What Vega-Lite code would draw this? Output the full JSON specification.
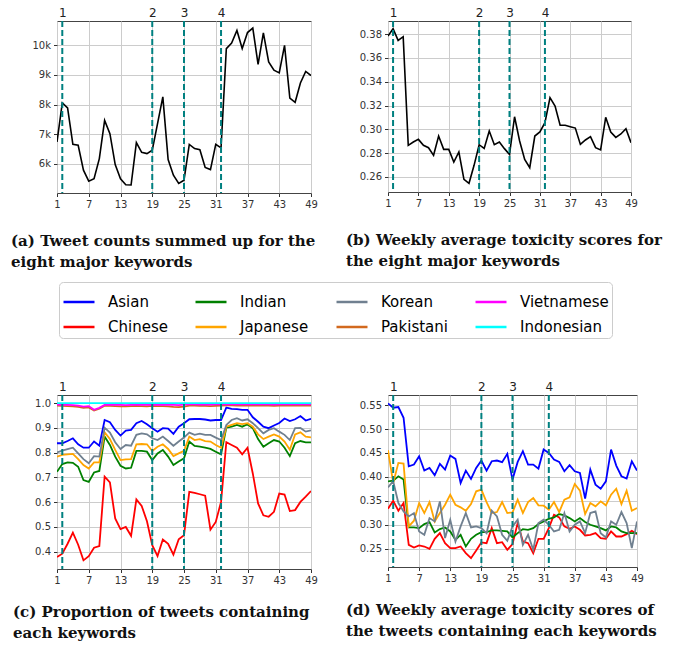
{
  "$schema": "https://vega.github.io/schema/vega-lite/v6.json",
  "background": "white",
  "padding": {"left": 10, "top": 5, "right": 5, "bottom": 5},
  "config": {
    "font": "DejaVu Sans",
    "view": {"stroke": "#444444", "strokeWidth": 1},
    "axis": {
      "labelFont": "DejaVu Sans",
      "labelFontSize": 10,
      "labelColor": "#333333",
      "tickColor": "#333333",
      "tickSize": 3.5,
      "labelPadding": 3,
      "gridColor": "#cccccc",
      "gridWidth": 1,
      "domain": false,
      "labelFlush": false,
      "labelOverlap": false
    },
    "title": {
      "font": "DejaVu Serif",
      "fontSize": 15,
      "fontWeight": "bold",
      "color": "#111111",
      "orient": "bottom",
      "anchor": "start",
      "frame": "group",
      "lineHeight": 21,
      "offset": 24
    }
  },
  "datasets": {
    "events": [
      {"week": 2, "event": 1},
      {"week": 19, "event": 2},
      {"week": 25, "event": 3},
      {"week": 32, "event": 4}
    ],
    "tweetCounts": [
      {"week": 1, "tweets": 6740}, {"week": 2, "tweets": 8060}, {"week": 3, "tweets": 7890}, {"week": 4, "tweets": 6660}, {"week": 5, "tweets": 6630},
      {"week": 6, "tweets": 5790}, {"week": 7, "tweets": 5420}, {"week": 8, "tweets": 5500}, {"week": 9, "tweets": 6180}, {"week": 10, "tweets": 7470},
      {"week": 11, "tweets": 7020}, {"week": 12, "tweets": 5980}, {"week": 13, "tweets": 5500}, {"week": 14, "tweets": 5300}, {"week": 15, "tweets": 5290},
      {"week": 16, "tweets": 6720}, {"week": 17, "tweets": 6390}, {"week": 18, "tweets": 6350}, {"week": 19, "tweets": 6460}, {"week": 20, "tweets": 7360},
      {"week": 21, "tweets": 8260}, {"week": 22, "tweets": 6150}, {"week": 23, "tweets": 5620}, {"week": 24, "tweets": 5340}, {"week": 25, "tweets": 5450},
      {"week": 26, "tweets": 6660}, {"week": 27, "tweets": 6520}, {"week": 28, "tweets": 6480}, {"week": 29, "tweets": 5880}, {"week": 30, "tweets": 5810},
      {"week": 31, "tweets": 6660}, {"week": 32, "tweets": 6540}, {"week": 33, "tweets": 9890}, {"week": 34, "tweets": 10080}, {"week": 35, "tweets": 10500},
      {"week": 36, "tweets": 9890}, {"week": 37, "tweets": 10430}, {"week": 38, "tweets": 10580}, {"week": 39, "tweets": 9360}, {"week": 40, "tweets": 10420},
      {"week": 41, "tweets": 9440}, {"week": 42, "tweets": 9160}, {"week": 43, "tweets": 9070}, {"week": 44, "tweets": 10000}, {"week": 45, "tweets": 8220},
      {"week": 46, "tweets": 8080}, {"week": 47, "tweets": 8730}, {"week": 48, "tweets": 9120}, {"week": 49, "tweets": 8980}
    ],
    "weeklyToxicity": [
      {"week": 1, "toxicity": 0.3783}, {"week": 2, "toxicity": 0.3845}, {"week": 3, "toxicity": 0.3747}, {"week": 4, "toxicity": 0.3778}, {"week": 5, "toxicity": 0.2866},
      {"week": 6, "toxicity": 0.2894}, {"week": 7, "toxicity": 0.2916}, {"week": 8, "toxicity": 0.2866}, {"week": 9, "toxicity": 0.2846}, {"week": 10, "toxicity": 0.2782},
      {"week": 11, "toxicity": 0.2944}, {"week": 12, "toxicity": 0.2832}, {"week": 13, "toxicity": 0.2832}, {"week": 14, "toxicity": 0.2726}, {"week": 15, "toxicity": 0.281},
      {"week": 16, "toxicity": 0.258}, {"week": 17, "toxicity": 0.2547}, {"week": 18, "toxicity": 0.2698}, {"week": 19, "toxicity": 0.2871}, {"week": 20, "toxicity": 0.284},
      {"week": 21, "toxicity": 0.2986}, {"week": 22, "toxicity": 0.2871}, {"week": 23, "toxicity": 0.2894}, {"week": 24, "toxicity": 0.2838}, {"week": 25, "toxicity": 0.279},
      {"week": 26, "toxicity": 0.3106}, {"week": 27, "toxicity": 0.2902}, {"week": 28, "toxicity": 0.2748}, {"week": 29, "toxicity": 0.2678}, {"week": 30, "toxicity": 0.2944},
      {"week": 31, "toxicity": 0.2978}, {"week": 32, "toxicity": 0.3056}, {"week": 33, "toxicity": 0.3266}, {"week": 34, "toxicity": 0.3196}, {"week": 35, "toxicity": 0.3034},
      {"week": 36, "toxicity": 0.3034}, {"week": 37, "toxicity": 0.3022}, {"week": 38, "toxicity": 0.3011}, {"week": 39, "toxicity": 0.2874}, {"week": 40, "toxicity": 0.2911},
      {"week": 41, "toxicity": 0.2939}, {"week": 42, "toxicity": 0.2846}, {"week": 43, "toxicity": 0.2827}, {"week": 44, "toxicity": 0.3101}, {"week": 45, "toxicity": 0.2978},
      {"week": 46, "toxicity": 0.2933}, {"week": 47, "toxicity": 0.2961}, {"week": 48, "toxicity": 0.3006}, {"week": 49, "toxicity": 0.2888}
    ],
    "keywordShare": [
      {"week": 1, "keyword": "Asian", "share": 0.838}, {"week": 2, "keyword": "Asian", "share": 0.838}, {"week": 3, "keyword": "Asian", "share": 0.847}, {"week": 4, "keyword": "Asian", "share": 0.858}, {"week": 5, "keyword": "Asian", "share": 0.834}, {"week": 6, "keyword": "Asian", "share": 0.82}, {"week": 7, "keyword": "Asian", "share": 0.82}, {"week": 8, "keyword": "Asian", "share": 0.845}, {"week": 9, "keyword": "Asian", "share": 0.828}, {"week": 10, "keyword": "Asian", "share": 0.932},
      {"week": 11, "keyword": "Asian", "share": 0.923}, {"week": 12, "keyword": "Asian", "share": 0.892}, {"week": 13, "keyword": "Asian", "share": 0.869}, {"week": 14, "keyword": "Asian", "share": 0.889}, {"week": 15, "keyword": "Asian", "share": 0.892}, {"week": 16, "keyword": "Asian", "share": 0.919}, {"week": 17, "keyword": "Asian", "share": 0.928}, {"week": 18, "keyword": "Asian", "share": 0.915}, {"week": 19, "keyword": "Asian", "share": 0.899}, {"week": 20, "keyword": "Asian", "share": 0.885},
      {"week": 21, "keyword": "Asian", "share": 0.899}, {"week": 22, "keyword": "Asian", "share": 0.897}, {"week": 23, "keyword": "Asian", "share": 0.876}, {"week": 24, "keyword": "Asian", "share": 0.905}, {"week": 25, "keyword": "Asian", "share": 0.919}, {"week": 26, "keyword": "Asian", "share": 0.935}, {"week": 27, "keyword": "Asian", "share": 0.936}, {"week": 28, "keyword": "Asian", "share": 0.936}, {"week": 29, "keyword": "Asian", "share": 0.934}, {"week": 30, "keyword": "Asian", "share": 0.93},
      {"week": 31, "keyword": "Asian", "share": 0.932}, {"week": 32, "keyword": "Asian", "share": 0.932}, {"week": 33, "keyword": "Asian", "share": 0.982}, {"week": 34, "keyword": "Asian", "share": 0.977}, {"week": 35, "keyword": "Asian", "share": 0.976}, {"week": 36, "keyword": "Asian", "share": 0.973}, {"week": 37, "keyword": "Asian", "share": 0.973}, {"week": 38, "keyword": "Asian", "share": 0.943}, {"week": 39, "keyword": "Asian", "share": 0.925}, {"week": 40, "keyword": "Asian", "share": 0.905},
      {"week": 41, "keyword": "Asian", "share": 0.899}, {"week": 42, "keyword": "Asian", "share": 0.91}, {"week": 43, "keyword": "Asian", "share": 0.92}, {"week": 44, "keyword": "Asian", "share": 0.938}, {"week": 45, "keyword": "Asian", "share": 0.928}, {"week": 46, "keyword": "Asian", "share": 0.935}, {"week": 47, "keyword": "Asian", "share": 0.948}, {"week": 48, "keyword": "Asian", "share": 0.93}, {"week": 49, "keyword": "Asian", "share": 0.937},

      {"week": 1, "keyword": "Chinese", "share": 0.378}, {"week": 2, "keyword": "Chinese", "share": 0.392}, {"week": 3, "keyword": "Chinese", "share": 0.432}, {"week": 4, "keyword": "Chinese", "share": 0.477}, {"week": 5, "keyword": "Chinese", "share": 0.428}, {"week": 6, "keyword": "Chinese", "share": 0.365}, {"week": 7, "keyword": "Chinese", "share": 0.382}, {"week": 8, "keyword": "Chinese", "share": 0.416}, {"week": 9, "keyword": "Chinese", "share": 0.423}, {"week": 10, "keyword": "Chinese", "share": 0.703},
      {"week": 11, "keyword": "Chinese", "share": 0.68}, {"week": 12, "keyword": "Chinese", "share": 0.534}, {"week": 13, "keyword": "Chinese", "share": 0.491}, {"week": 14, "keyword": "Chinese", "share": 0.5}, {"week": 15, "keyword": "Chinese", "share": 0.464}, {"week": 16, "keyword": "Chinese", "share": 0.611}, {"week": 17, "keyword": "Chinese", "share": 0.585}, {"week": 18, "keyword": "Chinese", "share": 0.523}, {"week": 19, "keyword": "Chinese", "share": 0.426}, {"week": 20, "keyword": "Chinese", "share": 0.382},
      {"week": 21, "keyword": "Chinese", "share": 0.449}, {"week": 22, "keyword": "Chinese", "share": 0.432}, {"week": 23, "keyword": "Chinese", "share": 0.388}, {"week": 24, "keyword": "Chinese", "share": 0.45}, {"week": 25, "keyword": "Chinese", "share": 0.466}, {"week": 26, "keyword": "Chinese", "share": 0.642}, {"week": 27, "keyword": "Chinese", "share": 0.638}, {"week": 28, "keyword": "Chinese", "share": 0.632}, {"week": 29, "keyword": "Chinese", "share": 0.626}, {"week": 30, "keyword": "Chinese", "share": 0.489},
      {"week": 31, "keyword": "Chinese", "share": 0.52}, {"week": 32, "keyword": "Chinese", "share": 0.601}, {"week": 33, "keyword": "Chinese", "share": 0.842}, {"week": 34, "keyword": "Chinese", "share": 0.831}, {"week": 35, "keyword": "Chinese", "share": 0.82}, {"week": 36, "keyword": "Chinese", "share": 0.793}, {"week": 37, "keyword": "Chinese", "share": 0.82}, {"week": 38, "keyword": "Chinese", "share": 0.716}, {"week": 39, "keyword": "Chinese", "share": 0.595}, {"week": 40, "keyword": "Chinese", "share": 0.547},
      {"week": 41, "keyword": "Chinese", "share": 0.541}, {"week": 42, "keyword": "Chinese", "share": 0.561}, {"week": 43, "keyword": "Chinese", "share": 0.635}, {"week": 44, "keyword": "Chinese", "share": 0.631}, {"week": 45, "keyword": "Chinese", "share": 0.564}, {"week": 46, "keyword": "Chinese", "share": 0.568}, {"week": 47, "keyword": "Chinese", "share": 0.601}, {"week": 48, "keyword": "Chinese", "share": 0.622}, {"week": 49, "keyword": "Chinese", "share": 0.645},

      {"week": 1, "keyword": "Indian", "share": 0.723}, {"week": 2, "keyword": "Indian", "share": 0.754}, {"week": 3, "keyword": "Indian", "share": 0.761}, {"week": 4, "keyword": "Indian", "share": 0.759}, {"week": 5, "keyword": "Indian", "share": 0.743}, {"week": 6, "keyword": "Indian", "share": 0.689}, {"week": 7, "keyword": "Indian", "share": 0.682}, {"week": 8, "keyword": "Indian", "share": 0.72}, {"week": 9, "keyword": "Indian", "share": 0.726}, {"week": 10, "keyword": "Indian", "share": 0.865},
      {"week": 11, "keyword": "Indian", "share": 0.831}, {"week": 12, "keyword": "Indian", "share": 0.784}, {"week": 13, "keyword": "Indian", "share": 0.747}, {"week": 14, "keyword": "Indian", "share": 0.736}, {"week": 15, "keyword": "Indian", "share": 0.739}, {"week": 16, "keyword": "Indian", "share": 0.807}, {"week": 17, "keyword": "Indian", "share": 0.807}, {"week": 18, "keyword": "Indian", "share": 0.804}, {"week": 19, "keyword": "Indian", "share": 0.77}, {"week": 20, "keyword": "Indian", "share": 0.797},
      {"week": 21, "keyword": "Indian", "share": 0.811}, {"week": 22, "keyword": "Indian", "share": 0.784}, {"week": 23, "keyword": "Indian", "share": 0.75}, {"week": 24, "keyword": "Indian", "share": 0.764}, {"week": 25, "keyword": "Indian", "share": 0.777}, {"week": 26, "keyword": "Indian", "share": 0.845}, {"week": 27, "keyword": "Indian", "share": 0.827}, {"week": 28, "keyword": "Indian", "share": 0.824}, {"week": 29, "keyword": "Indian", "share": 0.82}, {"week": 30, "keyword": "Indian", "share": 0.815},
      {"week": 31, "keyword": "Indian", "share": 0.804}, {"week": 32, "keyword": "Indian", "share": 0.793}, {"week": 33, "keyword": "Indian", "share": 0.901}, {"week": 34, "keyword": "Indian", "share": 0.905}, {"week": 35, "keyword": "Indian", "share": 0.912}, {"week": 36, "keyword": "Indian", "share": 0.905}, {"week": 37, "keyword": "Indian", "share": 0.915}, {"week": 38, "keyword": "Indian", "share": 0.899}, {"week": 39, "keyword": "Indian", "share": 0.855}, {"week": 40, "keyword": "Indian", "share": 0.824},
      {"week": 41, "keyword": "Indian", "share": 0.838}, {"week": 42, "keyword": "Indian", "share": 0.851}, {"week": 43, "keyword": "Indian", "share": 0.845}, {"week": 44, "keyword": "Indian", "share": 0.82}, {"week": 45, "keyword": "Indian", "share": 0.786}, {"week": 46, "keyword": "Indian", "share": 0.838}, {"week": 47, "keyword": "Indian", "share": 0.847}, {"week": 48, "keyword": "Indian", "share": 0.842}, {"week": 49, "keyword": "Indian", "share": 0.842},

      {"week": 1, "keyword": "Japanese", "share": 0.784}, {"week": 2, "keyword": "Japanese", "share": 0.791}, {"week": 3, "keyword": "Japanese", "share": 0.793}, {"week": 4, "keyword": "Japanese", "share": 0.795}, {"week": 5, "keyword": "Japanese", "share": 0.774}, {"week": 6, "keyword": "Japanese", "share": 0.75}, {"week": 7, "keyword": "Japanese", "share": 0.736}, {"week": 8, "keyword": "Japanese", "share": 0.761}, {"week": 9, "keyword": "Japanese", "share": 0.761}, {"week": 10, "keyword": "Japanese", "share": 0.882},
      {"week": 11, "keyword": "Japanese", "share": 0.855}, {"week": 12, "keyword": "Japanese", "share": 0.811}, {"week": 13, "keyword": "Japanese", "share": 0.77}, {"week": 14, "keyword": "Japanese", "share": 0.773}, {"week": 15, "keyword": "Japanese", "share": 0.774}, {"week": 16, "keyword": "Japanese", "share": 0.834}, {"week": 17, "keyword": "Japanese", "share": 0.835}, {"week": 18, "keyword": "Japanese", "share": 0.834}, {"week": 19, "keyword": "Japanese", "share": 0.807}, {"week": 20, "keyword": "Japanese", "share": 0.824},
      {"week": 21, "keyword": "Japanese", "share": 0.834}, {"week": 22, "keyword": "Japanese", "share": 0.815}, {"week": 23, "keyword": "Japanese", "share": 0.786}, {"week": 24, "keyword": "Japanese", "share": 0.797}, {"week": 25, "keyword": "Japanese", "share": 0.807}, {"week": 26, "keyword": "Japanese", "share": 0.865}, {"week": 27, "keyword": "Japanese", "share": 0.851}, {"week": 28, "keyword": "Japanese", "share": 0.855}, {"week": 29, "keyword": "Japanese", "share": 0.847}, {"week": 30, "keyword": "Japanese", "share": 0.845},
      {"week": 31, "keyword": "Japanese", "share": 0.831}, {"week": 32, "keyword": "Japanese", "share": 0.82}, {"week": 33, "keyword": "Japanese", "share": 0.905}, {"week": 34, "keyword": "Japanese", "share": 0.912}, {"week": 35, "keyword": "Japanese", "share": 0.919}, {"week": 36, "keyword": "Japanese", "share": 0.915}, {"week": 37, "keyword": "Japanese", "share": 0.919}, {"week": 38, "keyword": "Japanese", "share": 0.905}, {"week": 39, "keyword": "Japanese", "share": 0.874}, {"week": 40, "keyword": "Japanese", "share": 0.855},
      {"week": 41, "keyword": "Japanese", "share": 0.865}, {"week": 42, "keyword": "Japanese", "share": 0.874}, {"week": 43, "keyword": "Japanese", "share": 0.865}, {"week": 44, "keyword": "Japanese", "share": 0.845}, {"week": 45, "keyword": "Japanese", "share": 0.812}, {"week": 46, "keyword": "Japanese", "share": 0.874}, {"week": 47, "keyword": "Japanese", "share": 0.882}, {"week": 48, "keyword": "Japanese", "share": 0.865}, {"week": 49, "keyword": "Japanese", "share": 0.862},

      {"week": 1, "keyword": "Korean", "share": 0.801}, {"week": 2, "keyword": "Korean", "share": 0.808}, {"week": 3, "keyword": "Korean", "share": 0.814}, {"week": 4, "keyword": "Korean", "share": 0.82}, {"week": 5, "keyword": "Korean", "share": 0.797}, {"week": 6, "keyword": "Korean", "share": 0.774}, {"week": 7, "keyword": "Korean", "share": 0.757}, {"week": 8, "keyword": "Korean", "share": 0.786}, {"week": 9, "keyword": "Korean", "share": 0.784}, {"week": 10, "keyword": "Korean", "share": 0.901},
      {"week": 11, "keyword": "Korean", "share": 0.881}, {"week": 12, "keyword": "Korean", "share": 0.842}, {"week": 13, "keyword": "Korean", "share": 0.815}, {"week": 14, "keyword": "Korean", "share": 0.831}, {"week": 15, "keyword": "Korean", "share": 0.828}, {"week": 16, "keyword": "Korean", "share": 0.872}, {"week": 17, "keyword": "Korean", "share": 0.878}, {"week": 18, "keyword": "Korean", "share": 0.874}, {"week": 19, "keyword": "Korean", "share": 0.858}, {"week": 20, "keyword": "Korean", "share": 0.851},
      {"week": 21, "keyword": "Korean", "share": 0.865}, {"week": 22, "keyword": "Korean", "share": 0.847}, {"week": 23, "keyword": "Korean", "share": 0.828}, {"week": 24, "keyword": "Korean", "share": 0.845}, {"week": 25, "keyword": "Korean", "share": 0.861}, {"week": 26, "keyword": "Korean", "share": 0.881}, {"week": 27, "keyword": "Korean", "share": 0.872}, {"week": 28, "keyword": "Korean", "share": 0.877}, {"week": 29, "keyword": "Korean", "share": 0.872}, {"week": 30, "keyword": "Korean", "share": 0.872},
      {"week": 31, "keyword": "Korean", "share": 0.861}, {"week": 32, "keyword": "Korean", "share": 0.851}, {"week": 33, "keyword": "Korean", "share": 0.912}, {"week": 34, "keyword": "Korean", "share": 0.932}, {"week": 35, "keyword": "Korean", "share": 0.939}, {"week": 36, "keyword": "Korean", "share": 0.93}, {"week": 37, "keyword": "Korean", "share": 0.935}, {"week": 38, "keyword": "Korean", "share": 0.919}, {"week": 39, "keyword": "Korean", "share": 0.899}, {"week": 40, "keyword": "Korean", "share": 0.878},
      {"week": 41, "keyword": "Korean", "share": 0.892}, {"week": 42, "keyword": "Korean", "share": 0.899}, {"week": 43, "keyword": "Korean", "share": 0.885}, {"week": 44, "keyword": "Korean", "share": 0.872}, {"week": 45, "keyword": "Korean", "share": 0.851}, {"week": 46, "keyword": "Korean", "share": 0.899}, {"week": 47, "keyword": "Korean", "share": 0.9}, {"week": 48, "keyword": "Korean", "share": 0.885}, {"week": 49, "keyword": "Korean", "share": 0.89},

      {"week": 1, "keyword": "Pakistani", "share": 0.99}, {"week": 2, "keyword": "Pakistani", "share": 0.989}, {"week": 3, "keyword": "Pakistani", "share": 0.988}, {"week": 4, "keyword": "Pakistani", "share": 0.987}, {"week": 5, "keyword": "Pakistani", "share": 0.985}, {"week": 6, "keyword": "Pakistani", "share": 0.981}, {"week": 7, "keyword": "Pakistani", "share": 0.983}, {"week": 8, "keyword": "Pakistani", "share": 0.97}, {"week": 9, "keyword": "Pakistani", "share": 0.978}, {"week": 10, "keyword": "Pakistani", "share": 0.99},
      {"week": 11, "keyword": "Pakistani", "share": 0.989}, {"week": 12, "keyword": "Pakistani", "share": 0.988}, {"week": 13, "keyword": "Pakistani", "share": 0.987}, {"week": 14, "keyword": "Pakistani", "share": 0.987}, {"week": 15, "keyword": "Pakistani", "share": 0.988}, {"week": 16, "keyword": "Pakistani", "share": 0.989}, {"week": 17, "keyword": "Pakistani", "share": 0.988}, {"week": 18, "keyword": "Pakistani", "share": 0.987}, {"week": 19, "keyword": "Pakistani", "share": 0.989}, {"week": 20, "keyword": "Pakistani", "share": 0.988},
      {"week": 21, "keyword": "Pakistani", "share": 0.988}, {"week": 22, "keyword": "Pakistani", "share": 0.987}, {"week": 23, "keyword": "Pakistani", "share": 0.985}, {"week": 24, "keyword": "Pakistani", "share": 0.984}, {"week": 25, "keyword": "Pakistani", "share": 0.986}, {"week": 26, "keyword": "Pakistani", "share": 0.99}, {"week": 27, "keyword": "Pakistani", "share": 0.99}, {"week": 28, "keyword": "Pakistani", "share": 0.989}, {"week": 29, "keyword": "Pakistani", "share": 0.989}, {"week": 30, "keyword": "Pakistani", "share": 0.988},
      {"week": 31, "keyword": "Pakistani", "share": 0.989}, {"week": 32, "keyword": "Pakistani", "share": 0.99}, {"week": 33, "keyword": "Pakistani", "share": 0.991}, {"week": 34, "keyword": "Pakistani", "share": 0.991}, {"week": 35, "keyword": "Pakistani", "share": 0.99}, {"week": 36, "keyword": "Pakistani", "share": 0.991}, {"week": 37, "keyword": "Pakistani", "share": 0.99}, {"week": 38, "keyword": "Pakistani", "share": 0.99}, {"week": 39, "keyword": "Pakistani", "share": 0.991}, {"week": 40, "keyword": "Pakistani", "share": 0.99},
      {"week": 41, "keyword": "Pakistani", "share": 0.99}, {"week": 42, "keyword": "Pakistani", "share": 0.989}, {"week": 43, "keyword": "Pakistani", "share": 0.99}, {"week": 44, "keyword": "Pakistani", "share": 0.99}, {"week": 45, "keyword": "Pakistani", "share": 0.991}, {"week": 46, "keyword": "Pakistani", "share": 0.99}, {"week": 47, "keyword": "Pakistani", "share": 0.99}, {"week": 48, "keyword": "Pakistani", "share": 0.991}, {"week": 49, "keyword": "Pakistani", "share": 0.99},

      {"week": 1, "keyword": "Vietnamese", "share": 0.994}, {"week": 2, "keyword": "Vietnamese", "share": 0.993}, {"week": 3, "keyword": "Vietnamese", "share": 0.993}, {"week": 4, "keyword": "Vietnamese", "share": 0.992}, {"week": 5, "keyword": "Vietnamese", "share": 0.99}, {"week": 6, "keyword": "Vietnamese", "share": 0.986}, {"week": 7, "keyword": "Vietnamese", "share": 0.988}, {"week": 8, "keyword": "Vietnamese", "share": 0.973}, {"week": 9, "keyword": "Vietnamese", "share": 0.981}, {"week": 10, "keyword": "Vietnamese", "share": 0.993},
      {"week": 11, "keyword": "Vietnamese", "share": 0.994}, {"week": 12, "keyword": "Vietnamese", "share": 0.993}, {"week": 13, "keyword": "Vietnamese", "share": 0.993}, {"week": 14, "keyword": "Vietnamese", "share": 0.992}, {"week": 15, "keyword": "Vietnamese", "share": 0.993}, {"week": 16, "keyword": "Vietnamese", "share": 0.993}, {"week": 17, "keyword": "Vietnamese", "share": 0.994}, {"week": 18, "keyword": "Vietnamese", "share": 0.993}, {"week": 19, "keyword": "Vietnamese", "share": 0.994}, {"week": 20, "keyword": "Vietnamese", "share": 0.993},
      {"week": 21, "keyword": "Vietnamese", "share": 0.993}, {"week": 22, "keyword": "Vietnamese", "share": 0.994}, {"week": 23, "keyword": "Vietnamese", "share": 0.993}, {"week": 24, "keyword": "Vietnamese", "share": 0.992}, {"week": 25, "keyword": "Vietnamese", "share": 0.994}, {"week": 26, "keyword": "Vietnamese", "share": 0.995}, {"week": 27, "keyword": "Vietnamese", "share": 0.995}, {"week": 28, "keyword": "Vietnamese", "share": 0.994}, {"week": 29, "keyword": "Vietnamese", "share": 0.995}, {"week": 30, "keyword": "Vietnamese", "share": 0.994},
      {"week": 31, "keyword": "Vietnamese", "share": 0.995}, {"week": 32, "keyword": "Vietnamese", "share": 0.995}, {"week": 33, "keyword": "Vietnamese", "share": 0.996}, {"week": 34, "keyword": "Vietnamese", "share": 0.995}, {"week": 35, "keyword": "Vietnamese", "share": 0.995}, {"week": 36, "keyword": "Vietnamese", "share": 0.996}, {"week": 37, "keyword": "Vietnamese", "share": 0.995}, {"week": 38, "keyword": "Vietnamese", "share": 0.995}, {"week": 39, "keyword": "Vietnamese", "share": 0.996}, {"week": 40, "keyword": "Vietnamese", "share": 0.995},
      {"week": 41, "keyword": "Vietnamese", "share": 0.995}, {"week": 42, "keyword": "Vietnamese", "share": 0.994}, {"week": 43, "keyword": "Vietnamese", "share": 0.995}, {"week": 44, "keyword": "Vietnamese", "share": 0.995}, {"week": 45, "keyword": "Vietnamese", "share": 0.996}, {"week": 46, "keyword": "Vietnamese", "share": 0.995}, {"week": 47, "keyword": "Vietnamese", "share": 0.995}, {"week": 48, "keyword": "Vietnamese", "share": 0.996}, {"week": 49, "keyword": "Vietnamese", "share": 0.995},

      {"week": 1, "keyword": "Indonesian", "share": 1.0}, {"week": 2, "keyword": "Indonesian", "share": 1.0}, {"week": 3, "keyword": "Indonesian", "share": 1.0}, {"week": 4, "keyword": "Indonesian", "share": 1.0}, {"week": 5, "keyword": "Indonesian", "share": 1.0}, {"week": 6, "keyword": "Indonesian", "share": 1.0}, {"week": 7, "keyword": "Indonesian", "share": 1.0}, {"week": 8, "keyword": "Indonesian", "share": 1.0}, {"week": 9, "keyword": "Indonesian", "share": 1.0}, {"week": 10, "keyword": "Indonesian", "share": 1.0},
      {"week": 11, "keyword": "Indonesian", "share": 1.0}, {"week": 12, "keyword": "Indonesian", "share": 1.0}, {"week": 13, "keyword": "Indonesian", "share": 1.0}, {"week": 14, "keyword": "Indonesian", "share": 1.0}, {"week": 15, "keyword": "Indonesian", "share": 1.0}, {"week": 16, "keyword": "Indonesian", "share": 1.0}, {"week": 17, "keyword": "Indonesian", "share": 1.0}, {"week": 18, "keyword": "Indonesian", "share": 1.0}, {"week": 19, "keyword": "Indonesian", "share": 1.0}, {"week": 20, "keyword": "Indonesian", "share": 1.0},
      {"week": 21, "keyword": "Indonesian", "share": 1.0}, {"week": 22, "keyword": "Indonesian", "share": 1.0}, {"week": 23, "keyword": "Indonesian", "share": 1.0}, {"week": 24, "keyword": "Indonesian", "share": 1.0}, {"week": 25, "keyword": "Indonesian", "share": 1.0}, {"week": 26, "keyword": "Indonesian", "share": 1.0}, {"week": 27, "keyword": "Indonesian", "share": 1.0}, {"week": 28, "keyword": "Indonesian", "share": 1.0}, {"week": 29, "keyword": "Indonesian", "share": 1.0}, {"week": 30, "keyword": "Indonesian", "share": 1.0},
      {"week": 31, "keyword": "Indonesian", "share": 1.0}, {"week": 32, "keyword": "Indonesian", "share": 1.0}, {"week": 33, "keyword": "Indonesian", "share": 1.0}, {"week": 34, "keyword": "Indonesian", "share": 1.0}, {"week": 35, "keyword": "Indonesian", "share": 1.0}, {"week": 36, "keyword": "Indonesian", "share": 1.0}, {"week": 37, "keyword": "Indonesian", "share": 1.0}, {"week": 38, "keyword": "Indonesian", "share": 1.0}, {"week": 39, "keyword": "Indonesian", "share": 1.0}, {"week": 40, "keyword": "Indonesian", "share": 1.0},
      {"week": 41, "keyword": "Indonesian", "share": 1.0}, {"week": 42, "keyword": "Indonesian", "share": 1.0}, {"week": 43, "keyword": "Indonesian", "share": 1.0}, {"week": 44, "keyword": "Indonesian", "share": 1.0}, {"week": 45, "keyword": "Indonesian", "share": 1.0}, {"week": 46, "keyword": "Indonesian", "share": 1.0}, {"week": 47, "keyword": "Indonesian", "share": 1.0}, {"week": 48, "keyword": "Indonesian", "share": 1.0}, {"week": 49, "keyword": "Indonesian", "share": 1.0}
    ],
    "keywordToxicity": [
      {"week": 1, "keyword": "Asian", "toxicity": 0.5535}, {"week": 2, "keyword": "Asian", "toxicity": 0.5444}, {"week": 3, "keyword": "Asian", "toxicity": 0.5458}, {"week": 4, "keyword": "Asian", "toxicity": 0.5235}, {"week": 5, "keyword": "Asian", "toxicity": 0.4223}, {"week": 6, "keyword": "Asian", "toxicity": 0.4258}, {"week": 7, "keyword": "Asian", "toxicity": 0.4432}, {"week": 8, "keyword": "Asian", "toxicity": 0.4132}, {"week": 9, "keyword": "Asian", "toxicity": 0.4188}, {"week": 10, "keyword": "Asian", "toxicity": 0.4035},
      {"week": 11, "keyword": "Asian", "toxicity": 0.4272}, {"week": 12, "keyword": "Asian", "toxicity": 0.4153}, {"week": 13, "keyword": "Asian", "toxicity": 0.4446}, {"week": 14, "keyword": "Asian", "toxicity": 0.4376}, {"week": 15, "keyword": "Asian", "toxicity": 0.3874}, {"week": 16, "keyword": "Asian", "toxicity": 0.4132}, {"week": 17, "keyword": "Asian", "toxicity": 0.3958}, {"week": 18, "keyword": "Asian", "toxicity": 0.4188}, {"week": 19, "keyword": "Asian", "toxicity": 0.4342}, {"week": 20, "keyword": "Asian", "toxicity": 0.4132},
      {"week": 21, "keyword": "Asian", "toxicity": 0.4328}, {"week": 22, "keyword": "Asian", "toxicity": 0.4342}, {"week": 23, "keyword": "Asian", "toxicity": 0.4307}, {"week": 24, "keyword": "Asian", "toxicity": 0.4481}, {"week": 25, "keyword": "Asian", "toxicity": 0.3944}, {"week": 26, "keyword": "Asian", "toxicity": 0.4314}, {"week": 27, "keyword": "Asian", "toxicity": 0.4537}, {"week": 28, "keyword": "Asian", "toxicity": 0.4258}, {"week": 29, "keyword": "Asian", "toxicity": 0.4258}, {"week": 30, "keyword": "Asian", "toxicity": 0.4174},
      {"week": 31, "keyword": "Asian", "toxicity": 0.4572}, {"week": 32, "keyword": "Asian", "toxicity": 0.4502}, {"week": 33, "keyword": "Asian", "toxicity": 0.4362}, {"week": 34, "keyword": "Asian", "toxicity": 0.4314}, {"week": 35, "keyword": "Asian", "toxicity": 0.4118}, {"week": 36, "keyword": "Asian", "toxicity": 0.4244}, {"week": 37, "keyword": "Asian", "toxicity": 0.4118}, {"week": 38, "keyword": "Asian", "toxicity": 0.4083}, {"week": 39, "keyword": "Asian", "toxicity": 0.3546}, {"week": 40, "keyword": "Asian", "toxicity": 0.4153},
      {"week": 41, "keyword": "Asian", "toxicity": 0.3839}, {"week": 42, "keyword": "Asian", "toxicity": 0.3755}, {"week": 43, "keyword": "Asian", "toxicity": 0.3909}, {"week": 44, "keyword": "Asian", "toxicity": 0.4572}, {"week": 45, "keyword": "Asian", "toxicity": 0.4237}, {"week": 46, "keyword": "Asian", "toxicity": 0.4014}, {"week": 47, "keyword": "Asian", "toxicity": 0.3965}, {"week": 48, "keyword": "Asian", "toxicity": 0.4328}, {"week": 49, "keyword": "Asian", "toxicity": 0.4132},

      {"week": 1, "keyword": "Chinese", "toxicity": 0.3337}, {"week": 2, "keyword": "Chinese", "toxicity": 0.3504}, {"week": 3, "keyword": "Chinese", "toxicity": 0.3295}, {"week": 4, "keyword": "Chinese", "toxicity": 0.3455}, {"week": 5, "keyword": "Chinese", "toxicity": 0.2583}, {"week": 6, "keyword": "Chinese", "toxicity": 0.2527}, {"week": 7, "keyword": "Chinese", "toxicity": 0.2569}, {"week": 8, "keyword": "Chinese", "toxicity": 0.2548}, {"week": 9, "keyword": "Chinese", "toxicity": 0.25}, {"week": 10, "keyword": "Chinese", "toxicity": 0.2709},
      {"week": 11, "keyword": "Chinese", "toxicity": 0.2827}, {"week": 12, "keyword": "Chinese", "toxicity": 0.2618}, {"week": 13, "keyword": "Chinese", "toxicity": 0.2513}, {"week": 14, "keyword": "Chinese", "toxicity": 0.2513}, {"week": 15, "keyword": "Chinese", "toxicity": 0.2548}, {"week": 16, "keyword": "Chinese", "toxicity": 0.2409}, {"week": 17, "keyword": "Chinese", "toxicity": 0.2304}, {"week": 18, "keyword": "Chinese", "toxicity": 0.2464}, {"week": 19, "keyword": "Chinese", "toxicity": 0.2632}, {"week": 20, "keyword": "Chinese", "toxicity": 0.2618},
      {"week": 21, "keyword": "Chinese", "toxicity": 0.2932}, {"week": 22, "keyword": "Chinese", "toxicity": 0.2618}, {"week": 23, "keyword": "Chinese", "toxicity": 0.2639}, {"week": 24, "keyword": "Chinese", "toxicity": 0.2478}, {"week": 25, "keyword": "Chinese", "toxicity": 0.2597}, {"week": 26, "keyword": "Chinese", "toxicity": 0.3037}, {"week": 27, "keyword": "Chinese", "toxicity": 0.2653}, {"week": 28, "keyword": "Chinese", "toxicity": 0.2618}, {"week": 29, "keyword": "Chinese", "toxicity": 0.2409}, {"week": 30, "keyword": "Chinese", "toxicity": 0.2709},
      {"week": 31, "keyword": "Chinese", "toxicity": 0.2709}, {"week": 32, "keyword": "Chinese", "toxicity": 0.2932}, {"week": 33, "keyword": "Chinese", "toxicity": 0.3211}, {"week": 34, "keyword": "Chinese", "toxicity": 0.3155}, {"week": 35, "keyword": "Chinese", "toxicity": 0.2967}, {"week": 36, "keyword": "Chinese", "toxicity": 0.2918}, {"week": 37, "keyword": "Chinese", "toxicity": 0.2967}, {"week": 38, "keyword": "Chinese", "toxicity": 0.2897}, {"week": 39, "keyword": "Chinese", "toxicity": 0.2778}, {"week": 40, "keyword": "Chinese", "toxicity": 0.2792},
      {"week": 41, "keyword": "Chinese", "toxicity": 0.2827}, {"week": 42, "keyword": "Chinese", "toxicity": 0.2723}, {"week": 43, "keyword": "Chinese", "toxicity": 0.2709}, {"week": 44, "keyword": "Chinese", "toxicity": 0.2862}, {"week": 45, "keyword": "Chinese", "toxicity": 0.2757}, {"week": 46, "keyword": "Chinese", "toxicity": 0.2757}, {"week": 47, "keyword": "Chinese", "toxicity": 0.2806}, {"week": 48, "keyword": "Chinese", "toxicity": 0.2876}, {"week": 49, "keyword": "Chinese", "toxicity": 0.2806},

      {"week": 1, "keyword": "Indian", "toxicity": 0.3909}, {"week": 2, "keyword": "Indian", "toxicity": 0.3923}, {"week": 3, "keyword": "Indian", "toxicity": 0.4014}, {"week": 4, "keyword": "Indian", "toxicity": 0.3944}, {"week": 5, "keyword": "Indian", "toxicity": 0.2946}, {"week": 6, "keyword": "Indian", "toxicity": 0.2946}, {"week": 7, "keyword": "Indian", "toxicity": 0.2932}, {"week": 8, "keyword": "Indian", "toxicity": 0.3016}, {"week": 9, "keyword": "Indian", "toxicity": 0.3058}, {"week": 10, "keyword": "Indian", "toxicity": 0.2841},
      {"week": 11, "keyword": "Indian", "toxicity": 0.2911}, {"week": 12, "keyword": "Indian", "toxicity": 0.2946}, {"week": 13, "keyword": "Indian", "toxicity": 0.2862}, {"week": 14, "keyword": "Indian", "toxicity": 0.2688}, {"week": 15, "keyword": "Indian", "toxicity": 0.2792}, {"week": 16, "keyword": "Indian", "toxicity": 0.2548}, {"week": 17, "keyword": "Indian", "toxicity": 0.2709}, {"week": 18, "keyword": "Indian", "toxicity": 0.2792}, {"week": 19, "keyword": "Indian", "toxicity": 0.2848}, {"week": 20, "keyword": "Indian", "toxicity": 0.2848},
      {"week": 21, "keyword": "Indian", "toxicity": 0.2883}, {"week": 22, "keyword": "Indian", "toxicity": 0.2883}, {"week": 23, "keyword": "Indian", "toxicity": 0.2876}, {"week": 24, "keyword": "Indian", "toxicity": 0.2862}, {"week": 25, "keyword": "Indian", "toxicity": 0.2737}, {"week": 26, "keyword": "Indian", "toxicity": 0.2827}, {"week": 27, "keyword": "Indian", "toxicity": 0.2911}, {"week": 28, "keyword": "Indian", "toxicity": 0.2897}, {"week": 29, "keyword": "Indian", "toxicity": 0.2932}, {"week": 30, "keyword": "Indian", "toxicity": 0.3016},
      {"week": 31, "keyword": "Indian", "toxicity": 0.3072}, {"week": 32, "keyword": "Indian", "toxicity": 0.3127}, {"week": 33, "keyword": "Indian", "toxicity": 0.3155}, {"week": 34, "keyword": "Indian", "toxicity": 0.3225}, {"week": 35, "keyword": "Indian", "toxicity": 0.3197}, {"week": 36, "keyword": "Indian", "toxicity": 0.3141}, {"week": 37, "keyword": "Indian", "toxicity": 0.3072}, {"week": 38, "keyword": "Indian", "toxicity": 0.3141}, {"week": 39, "keyword": "Indian", "toxicity": 0.3058}, {"week": 40, "keyword": "Indian", "toxicity": 0.3002},
      {"week": 41, "keyword": "Indian", "toxicity": 0.2967}, {"week": 42, "keyword": "Indian", "toxicity": 0.2932}, {"week": 43, "keyword": "Indian", "toxicity": 0.2883}, {"week": 44, "keyword": "Indian", "toxicity": 0.2967}, {"week": 45, "keyword": "Indian", "toxicity": 0.2946}, {"week": 46, "keyword": "Indian", "toxicity": 0.2862}, {"week": 47, "keyword": "Indian", "toxicity": 0.2827}, {"week": 48, "keyword": "Indian", "toxicity": 0.2827}, {"week": 49, "keyword": "Indian", "toxicity": 0.2827},

      {"week": 1, "keyword": "Japanese", "toxicity": 0.4558}, {"week": 2, "keyword": "Japanese", "toxicity": 0.3874}, {"week": 3, "keyword": "Japanese", "toxicity": 0.4293}, {"week": 4, "keyword": "Japanese", "toxicity": 0.4279}, {"week": 5, "keyword": "Japanese", "toxicity": 0.2967}, {"week": 6, "keyword": "Japanese", "toxicity": 0.3086}, {"week": 7, "keyword": "Japanese", "toxicity": 0.3455}, {"week": 8, "keyword": "Japanese", "toxicity": 0.3246}, {"week": 9, "keyword": "Japanese", "toxicity": 0.3476}, {"week": 10, "keyword": "Japanese", "toxicity": 0.3072},
      {"week": 11, "keyword": "Japanese", "toxicity": 0.3246}, {"week": 12, "keyword": "Japanese", "toxicity": 0.342}, {"week": 13, "keyword": "Japanese", "toxicity": 0.363}, {"week": 14, "keyword": "Japanese", "toxicity": 0.342}, {"week": 15, "keyword": "Japanese", "toxicity": 0.3365}, {"week": 16, "keyword": "Japanese", "toxicity": 0.3295}, {"week": 17, "keyword": "Japanese", "toxicity": 0.3434}, {"week": 18, "keyword": "Japanese", "toxicity": 0.37}, {"week": 19, "keyword": "Japanese", "toxicity": 0.3735}, {"week": 20, "keyword": "Japanese", "toxicity": 0.3476},
      {"week": 21, "keyword": "Japanese", "toxicity": 0.3246}, {"week": 22, "keyword": "Japanese", "toxicity": 0.3267}, {"week": 23, "keyword": "Japanese", "toxicity": 0.3476}, {"week": 24, "keyword": "Japanese", "toxicity": 0.3246}, {"week": 25, "keyword": "Japanese", "toxicity": 0.326}, {"week": 26, "keyword": "Japanese", "toxicity": 0.3525}, {"week": 27, "keyword": "Japanese", "toxicity": 0.3246}, {"week": 28, "keyword": "Japanese", "toxicity": 0.3476}, {"week": 29, "keyword": "Japanese", "toxicity": 0.356}, {"week": 30, "keyword": "Japanese", "toxicity": 0.3407},
      {"week": 31, "keyword": "Japanese", "toxicity": 0.34}, {"week": 32, "keyword": "Japanese", "toxicity": 0.3316}, {"week": 33, "keyword": "Japanese", "toxicity": 0.3476}, {"week": 34, "keyword": "Japanese", "toxicity": 0.3267}, {"week": 35, "keyword": "Japanese", "toxicity": 0.3525}, {"week": 36, "keyword": "Japanese", "toxicity": 0.3574}, {"week": 37, "keyword": "Japanese", "toxicity": 0.3853}, {"week": 38, "keyword": "Japanese", "toxicity": 0.3714}, {"week": 39, "keyword": "Japanese", "toxicity": 0.3225}, {"week": 40, "keyword": "Japanese", "toxicity": 0.3455},
      {"week": 41, "keyword": "Japanese", "toxicity": 0.3386}, {"week": 42, "keyword": "Japanese", "toxicity": 0.349}, {"week": 43, "keyword": "Japanese", "toxicity": 0.3407}, {"week": 44, "keyword": "Japanese", "toxicity": 0.363}, {"week": 45, "keyword": "Japanese", "toxicity": 0.3755}, {"week": 46, "keyword": "Japanese", "toxicity": 0.3434}, {"week": 47, "keyword": "Japanese", "toxicity": 0.3714}, {"week": 48, "keyword": "Japanese", "toxicity": 0.3295}, {"week": 49, "keyword": "Japanese", "toxicity": 0.3351},

      {"week": 1, "keyword": "Korean", "toxicity": 0.3783}, {"week": 2, "keyword": "Korean", "toxicity": 0.3909}, {"week": 3, "keyword": "Korean", "toxicity": 0.3455}, {"week": 4, "keyword": "Korean", "toxicity": 0.3281}, {"week": 5, "keyword": "Korean", "toxicity": 0.3176}, {"week": 6, "keyword": "Korean", "toxicity": 0.3246}, {"week": 7, "keyword": "Korean", "toxicity": 0.2862}, {"week": 8, "keyword": "Korean", "toxicity": 0.2792}, {"week": 9, "keyword": "Korean", "toxicity": 0.3141}, {"week": 10, "keyword": "Korean", "toxicity": 0.3072},
      {"week": 11, "keyword": "Korean", "toxicity": 0.349}, {"week": 12, "keyword": "Korean", "toxicity": 0.2723}, {"week": 13, "keyword": "Korean", "toxicity": 0.3107}, {"week": 14, "keyword": "Korean", "toxicity": 0.2653}, {"week": 15, "keyword": "Korean", "toxicity": 0.2967}, {"week": 16, "keyword": "Korean", "toxicity": 0.3246}, {"week": 17, "keyword": "Korean", "toxicity": 0.2946}, {"week": 18, "keyword": "Korean", "toxicity": 0.2967}, {"week": 19, "keyword": "Korean", "toxicity": 0.2932}, {"week": 20, "keyword": "Korean", "toxicity": 0.2827},
      {"week": 21, "keyword": "Korean", "toxicity": 0.3295}, {"week": 22, "keyword": "Korean", "toxicity": 0.3176}, {"week": 23, "keyword": "Korean", "toxicity": 0.2792}, {"week": 24, "keyword": "Korean", "toxicity": 0.2667}, {"week": 25, "keyword": "Korean", "toxicity": 0.2967}, {"week": 26, "keyword": "Korean", "toxicity": 0.3107}, {"week": 27, "keyword": "Korean", "toxicity": 0.2583}, {"week": 28, "keyword": "Korean", "toxicity": 0.2792}, {"week": 29, "keyword": "Korean", "toxicity": 0.2478}, {"week": 30, "keyword": "Korean", "toxicity": 0.3037},
      {"week": 31, "keyword": "Korean", "toxicity": 0.3107}, {"week": 32, "keyword": "Korean", "toxicity": 0.3002}, {"week": 33, "keyword": "Korean", "toxicity": 0.2862}, {"week": 34, "keyword": "Korean", "toxicity": 0.2897}, {"week": 35, "keyword": "Korean", "toxicity": 0.3246}, {"week": 36, "keyword": "Korean", "toxicity": 0.2862}, {"week": 37, "keyword": "Korean", "toxicity": 0.3002}, {"week": 38, "keyword": "Korean", "toxicity": 0.3072}, {"week": 39, "keyword": "Korean", "toxicity": 0.2827}, {"week": 40, "keyword": "Korean", "toxicity": 0.3246},
      {"week": 41, "keyword": "Korean", "toxicity": 0.3281}, {"week": 42, "keyword": "Korean", "toxicity": 0.2827}, {"week": 43, "keyword": "Korean", "toxicity": 0.2737}, {"week": 44, "keyword": "Korean", "toxicity": 0.3072}, {"week": 45, "keyword": "Korean", "toxicity": 0.3002}, {"week": 46, "keyword": "Korean", "toxicity": 0.3267}, {"week": 47, "keyword": "Korean", "toxicity": 0.3037}, {"week": 48, "keyword": "Korean", "toxicity": 0.2513}, {"week": 49, "keyword": "Korean", "toxicity": 0.3072}
    ]
  },
  "bounds": "flush",
  "columns": 2,
  "spacing": {"row": 202, "column": 77},
  "concat": [
    {
      "width": 254,
      "height": 172,
      "title": {"text": ["(a) Tweet counts summed up for the", "eight major keywords"], "dx": -46},
      "resolve": {"axis": {"x": "independent"}},
      "layer": [
        {
          "data": {"name": "tweetCounts"},
          "mark": {"type": "line", "color": "black", "strokeWidth": 1.6, "clip": true},
          "encoding": {
            "x": {"field": "week", "type": "quantitative", "title": null,
                  "scale": {"domain": [1, 49], "nice": false, "zero": false},
                  "axis": {"values": [1, 7, 13, 19, 25, 31, 37, 43, 49], "format": "d", "grid": true}},
            "y": {"field": "tweets", "type": "quantitative", "title": null,
                  "scale": {"domain": [5020, 10820], "nice": false, "zero": false},
                  "axis": {"values": [6000, 7000, 8000, 9000, 10000], "labelExpr": "(datum.value / 1000) + 'k'", "grid": true}}
          }
        },
        {
          "data": {"name": "events"},
          "mark": {"type": "rule", "color": "teal", "strokeWidth": 2, "strokeDash": [6, 3]},
          "encoding": {
            "x": {"field": "week", "type": "quantitative", "title": null,
                  "scale": {"domain": [1, 49], "nice": false, "zero": false},
                  "axis": {"orient": "top", "values": [2, 19, 25, 32], "labelExpr": "'' + (indexof([2, 19, 25, 32], datum.value) + 1)", "ticks": false, "grid": false, "domain": false, "labelFontSize": 12, "labelColor": "#222222", "labelPadding": 2}}
          }
        }
      ]
    },
    {
      "width": 243,
      "height": 171,
      "title": {"text": ["(b) Weekly average toxicity scores for", "the eight major keywords"], "dx": -42},
      "resolve": {"axis": {"x": "independent"}},
      "layer": [
        {
          "data": {"name": "weeklyToxicity"},
          "mark": {"type": "line", "color": "black", "strokeWidth": 1.6, "clip": true},
          "encoding": {
            "x": {"field": "week", "type": "quantitative", "title": null,
                  "scale": {"domain": [1, 49], "nice": false, "zero": false},
                  "axis": {"values": [1, 7, 13, 19, 25, 31, 37, 43, 49], "format": "d", "grid": true}},
            "y": {"field": "toxicity", "type": "quantitative", "title": null,
                  "scale": {"domain": [0.2474, 0.391], "nice": false, "zero": false},
                  "axis": {"values": [0.26, 0.28, 0.30, 0.32, 0.34, 0.36, 0.38], "format": ".2f", "grid": true}}
          }
        },
        {
          "data": {"name": "events"},
          "mark": {"type": "rule", "color": "teal", "strokeWidth": 2, "strokeDash": [6, 3]},
          "encoding": {
            "x": {"field": "week", "type": "quantitative", "title": null,
                  "scale": {"domain": [1, 49], "nice": false, "zero": false},
                  "axis": {"orient": "top", "values": [2, 19, 25, 32], "labelExpr": "'' + (indexof([2, 19, 25, 32], datum.value) + 1)", "ticks": false, "grid": false, "domain": false, "labelFontSize": 12, "labelColor": "#222222", "labelPadding": 2}}
          }
        }
      ]
    },
    {
      "width": 254,
      "height": 174,
      "title": {"text": ["(c) Proportion of tweets containing", "each keywords"], "dx": -44, "offset": 19},
      "resolve": {"axis": {"x": "independent"}},
      "layer": [
        {
          "data": {"name": "keywordShare"},
          "mark": {"type": "line", "strokeWidth": 1.8, "clip": true},
          "encoding": {
            "x": {"field": "week", "type": "quantitative", "title": null,
                  "scale": {"domain": [1, 49], "nice": false, "zero": false},
                  "axis": {"values": [1, 7, 13, 19, 25, 31, 37, 43, 49], "format": "d", "grid": true}},
            "y": {"field": "share", "type": "quantitative", "title": null,
                  "scale": {"domain": [0.33, 1.033], "nice": false, "zero": false},
                  "axis": {"values": [0.4, 0.5, 0.6, 0.7, 0.8, 0.9, 1.0], "format": ".1f", "grid": true}},
            "color": {
              "field": "keyword", "type": "nominal", "title": null,
              "scale": {
                "domain": ["Asian", "Chinese", "Indian", "Japanese", "Korean", "Pakistani", "Vietnamese", "Indonesian"],
                "range": ["#0000ff", "#ff0000", "#008000", "#ffa500", "#708090", "#d2691e", "#ff00ff", "#00ffff"]
              },
              "legend": {
                "orient": "none", "legendX": 2, "legendY": 261,
                "columns": 4, "gridAlign": "each",
                "symbolType": "stroke", "symbolSize": 961, "symbolStrokeWidth": 2.5,
                "labelFont": "DejaVu Sans", "labelFontSize": 15, "labelColor": "#000000", "labelOffset": 12,
                "columnPadding": 22, "rowPadding": 0, "padding": 3,
                "strokeColor": "#cccccc", "cornerRadius": 4, "fillColor": "white"
              }
            }
          }
        },
        {
          "data": {"name": "events"},
          "mark": {"type": "rule", "color": "teal", "strokeWidth": 2, "strokeDash": [6, 3]},
          "encoding": {
            "x": {"field": "week", "type": "quantitative", "title": null,
                  "scale": {"domain": [1, 49], "nice": false, "zero": false},
                  "axis": {"orient": "top", "values": [2, 19, 25, 32], "labelExpr": "'' + (indexof([2, 19, 25, 32], datum.value) + 1)", "ticks": false, "grid": false, "domain": false, "labelFontSize": 12, "labelColor": "#222222", "labelPadding": 2}}
          }
        }
      ]
    },
    {
      "width": 249,
      "height": 172,
      "title": {"text": ["(d) Weekly average toxicity scores of", "the tweets containing each keywords"], "dx": -42, "offset": 19},
      "resolve": {"axis": {"x": "independent"}},
      "layer": [
        {
          "data": {"name": "keywordToxicity"},
          "mark": {"type": "line", "strokeWidth": 1.8, "clip": true},
          "encoding": {
            "x": {"field": "week", "type": "quantitative", "title": null,
                  "scale": {"domain": [1, 49], "nice": false, "zero": false},
                  "axis": {"values": [1, 7, 13, 19, 25, 31, 37, 43, 49], "format": "d", "grid": true}},
            "y": {"field": "toxicity", "type": "quantitative", "title": null,
                  "scale": {"domain": [0.212, 0.571], "nice": false, "zero": false},
                  "axis": {"values": [0.25, 0.30, 0.35, 0.40, 0.45, 0.50, 0.55], "format": ".2f", "grid": true}},
            "color": {"field": "keyword", "type": "nominal", "title": null}
          }
        },
        {
          "data": {"name": "events"},
          "mark": {"type": "rule", "color": "teal", "strokeWidth": 2, "strokeDash": [6, 3]},
          "encoding": {
            "x": {"field": "week", "type": "quantitative", "title": null,
                  "scale": {"domain": [1, 49], "nice": false, "zero": false},
                  "axis": {"orient": "top", "values": [2, 19, 25, 32], "labelExpr": "'' + (indexof([2, 19, 25, 32], datum.value) + 1)", "ticks": false, "grid": false, "domain": false, "labelFontSize": 12, "labelColor": "#222222", "labelPadding": 2}}
          }
        }
      ]
    }
  ]
}
